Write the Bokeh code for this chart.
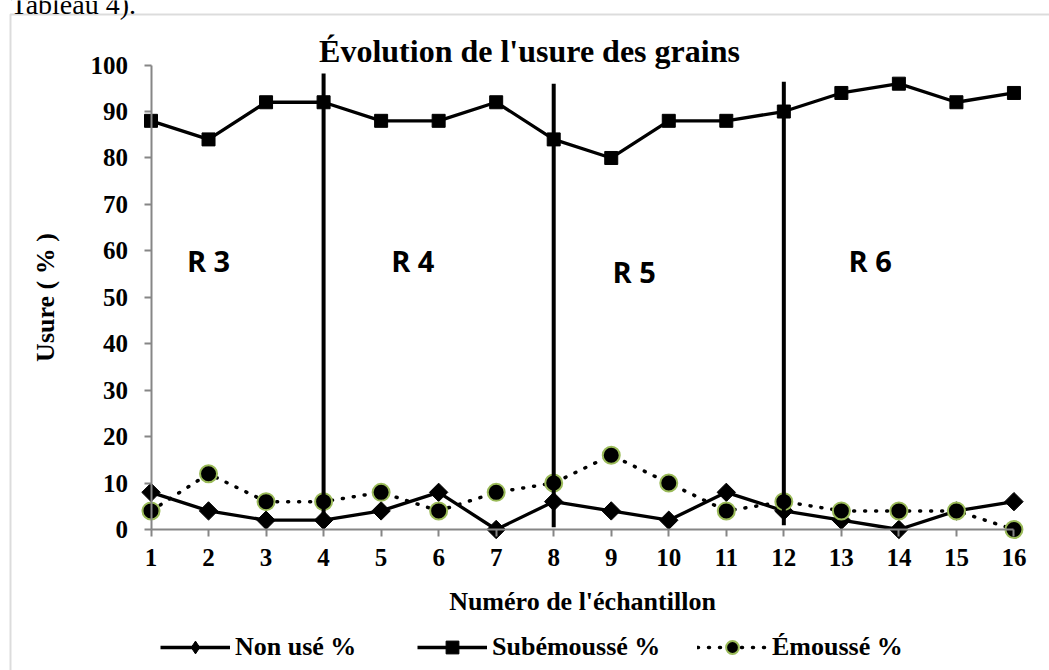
import math
from bokeh.plotting import figure
from bokeh.models import (Range1d, FixedTicker, Label, BoxAnnotation, Legend,
                          LegendItem, ColumnDataSource)
from bokeh.core.properties import value
from bokeh.embed import file_html
from bokeh.resources import INLINE

# ---------------- data ----------------
samples = list(range(1, 17))
non_use = [8, 4, 2, 2, 4, 8, 0, 6, 4, 2, 8, 4, 2, 0, 4, 6]
subemousse = [88, 84, 92, 92, 88, 88, 92, 84, 80, 88, 88, 90, 94, 96, 92, 94]
emousse = [4, 12, 6, 6, 8, 4, 8, 10, 16, 10, 4, 6, 4, 4, 4, 0]
y_ticks = list(range(0, 101, 10))

sep_x = [4, 8, 12]
sep_bottom = [0.5, 0.5, 0.9]
sep_top = [98.2, 96.0, 96.4]

region_labels = ["R 3", "R 4", "R 5", "R 6"]
region_x = [2.0, 5.55, 9.4, 13.5]
region_y = [58, 58, 55.5, 58]

caption_text = "Tableau 4)."
title_text = "Évolution de l'usure des grains"
x_title = "Numéro de l'échantillon"
y_title = "Usure ( % )"
series_names = ["Non usé %", "Subémoussé %", "Émoussé %"]

# ---------------- layout geometry (pixels) ----------------
W, H = 1049, 670
X1_PX, X_PER = 150.5, 57.53      # pixel of sample 1, pixels per sample
Y0_PX, Y_PER = 529.0, 4.644      # pixel of 0 %, pixels per %

x_start = 1 - X1_PX / X_PER
x_end = 1 + (W - X1_PX) / X_PER
y_end = Y0_PX / Y_PER
y_start = -(H - Y0_PX) / Y_PER

SERIF = "Liberation Serif"
AXIS_GREY = "#868686"

p = figure(width=W, height=H,
           x_range=Range1d(x_start, x_end), y_range=Range1d(y_start, y_end),
           output_backend="svg", toolbar_location=None,
           min_border_left=0, min_border_right=0,
           min_border_top=0, min_border_bottom=0)
p.grid.visible = False
p.outline_line_color = None
p.background_fill_color = "white"
p.border_fill_color = "white"

# outer chart-area border (screen units measured from bottom-left)
frame_box = BoxAnnotation(left=10, right=W + 60, top=H - 14, bottom=-60,
                          left_units="screen", right_units="screen",
                          top_units="screen", bottom_units="screen",
                          fill_alpha=0, line_color="#8c8c8c", line_width=2,
                          level="underlay")
p.add_layout(frame_box)

# x axis
xa = p.xaxis[0]
xa.fixed_location = 0
xa.bounds = (1, 16)
xa.ticker = FixedTicker(ticks=samples)
xa.minor_tick_line_color = None
xa.major_tick_in = 0
xa.major_tick_out = 7
xa.axis_line_color = AXIS_GREY
xa.axis_line_width = 2
xa.major_tick_line_color = AXIS_GREY
xa.major_tick_line_width = 2
xa.major_label_text_font = SERIF
xa.major_label_text_font_style = "bold"
xa.major_label_text_font_size = "25px"
xa.major_label_text_color = "black"
xa.major_label_standoff = 12
xa.axis_label = x_title
xa.axis_label_text_font = SERIF
xa.axis_label_text_font_style = "bold"
xa.axis_label_text_font_size = "26px"
xa.axis_label_text_color = "black"
xa.axis_label_standoff = 18

# y axis
ya = p.yaxis[0]
ya.fixed_location = 1
ya.bounds = (0, 100)
ya.ticker = FixedTicker(ticks=y_ticks)
ya.minor_tick_line_color = None
ya.major_tick_in = 0
ya.major_tick_out = 7
ya.axis_line_color = AXIS_GREY
ya.axis_line_width = 2
ya.major_tick_line_color = AXIS_GREY
ya.major_tick_line_width = 2
ya.major_label_text_font = SERIF
ya.major_label_text_font_style = "bold"
ya.major_label_text_font_size = "25px"
ya.major_label_text_color = "black"
ya.major_label_standoff = 16
ya.axis_label = y_title
ya.axis_label_text_font = SERIF
ya.axis_label_text_font_style = "bold"
ya.axis_label_text_font_size = "26px"
ya.axis_label_text_color = "black"
ya.axis_label_standoff = 28

# ---------------- series ----------------
src = ColumnDataSource(dict(x=samples, non=non_use, sub=subemousse, emo=emousse))

r1l = p.line("x", "non", source=src, line_color="black", line_width=3.3)
# diamond glyph (used by the legend) drawn under the rotated squares
r1d = p.scatter("x", "non", source=src, marker="diamond", size=12,
                fill_color="black", line_color="black")
r1m = p.scatter("x", "non", source=src, marker="square", angle=math.pi / 4,
                size=13, fill_color="black", line_color="black")

r2l = p.line("x", "sub", source=src, line_color="black", line_width=3.3)
r2m = p.scatter("x", "sub", source=src, marker="square", size=13,
                fill_color="black", line_color="black")

r3l = p.line("x", "emo", source=src, line_color="black", line_width=3.5,
             line_dash="1 10", line_cap="round")
r3m = p.scatter("x", "emo", source=src, marker="circle", size=17,
                fill_color="black", line_color="#9bbb59", line_width=2)

# separators between regions
p.segment(x0=sep_x, y0=sep_bottom, x1=sep_x, y1=sep_top,
          line_color="black", line_width=4)

# region labels
p.text(x=region_x, y=region_y, text=region_labels,
       text_font=value("Open Sans"), text_font_style="bold",
       text_font_size="29px", text_align="center", text_baseline="middle",
       text_color="black")

# caption fragment above the chart (cut at the page top, as in the source)
p.add_layout(Label(x=10, y=H - 4, x_units="screen", y_units="screen",
                   text=caption_text, text_align="left",
                   text_baseline="alphabetic", text_font=SERIF,
                   text_font_size="28px", text_color="black"))

# title
p.add_layout(Label(x=529, y=H - 50, x_units="screen", y_units="screen",
                   text=title_text, text_align="center",
                   text_baseline="alphabetic", text_font=SERIF,
                   text_font_style="bold", text_font_size="32px",
                   text_color="black"))

# legends (one per entry, placed individually)
legend_x = [160, 417, 697]
for name, rs, lx in zip(series_names, [[r1l, r1d], [r2l, r2m], [r3l, r3m]], legend_x):
    lg = Legend(items=[LegendItem(label=value(name), renderers=rs)],
                location=(lx, 7), orientation="horizontal",
                border_line_color=None, background_fill_alpha=0,
                padding=0, margin=0, glyph_width=70, glyph_height=32,
                label_standoff=5, label_text_font=SERIF,
                label_text_font_style="bold", label_text_font_size="26px",
                label_text_color="black")
    p.add_layout(lg)

open("out.html", "w").write(file_html(p, INLINE))
